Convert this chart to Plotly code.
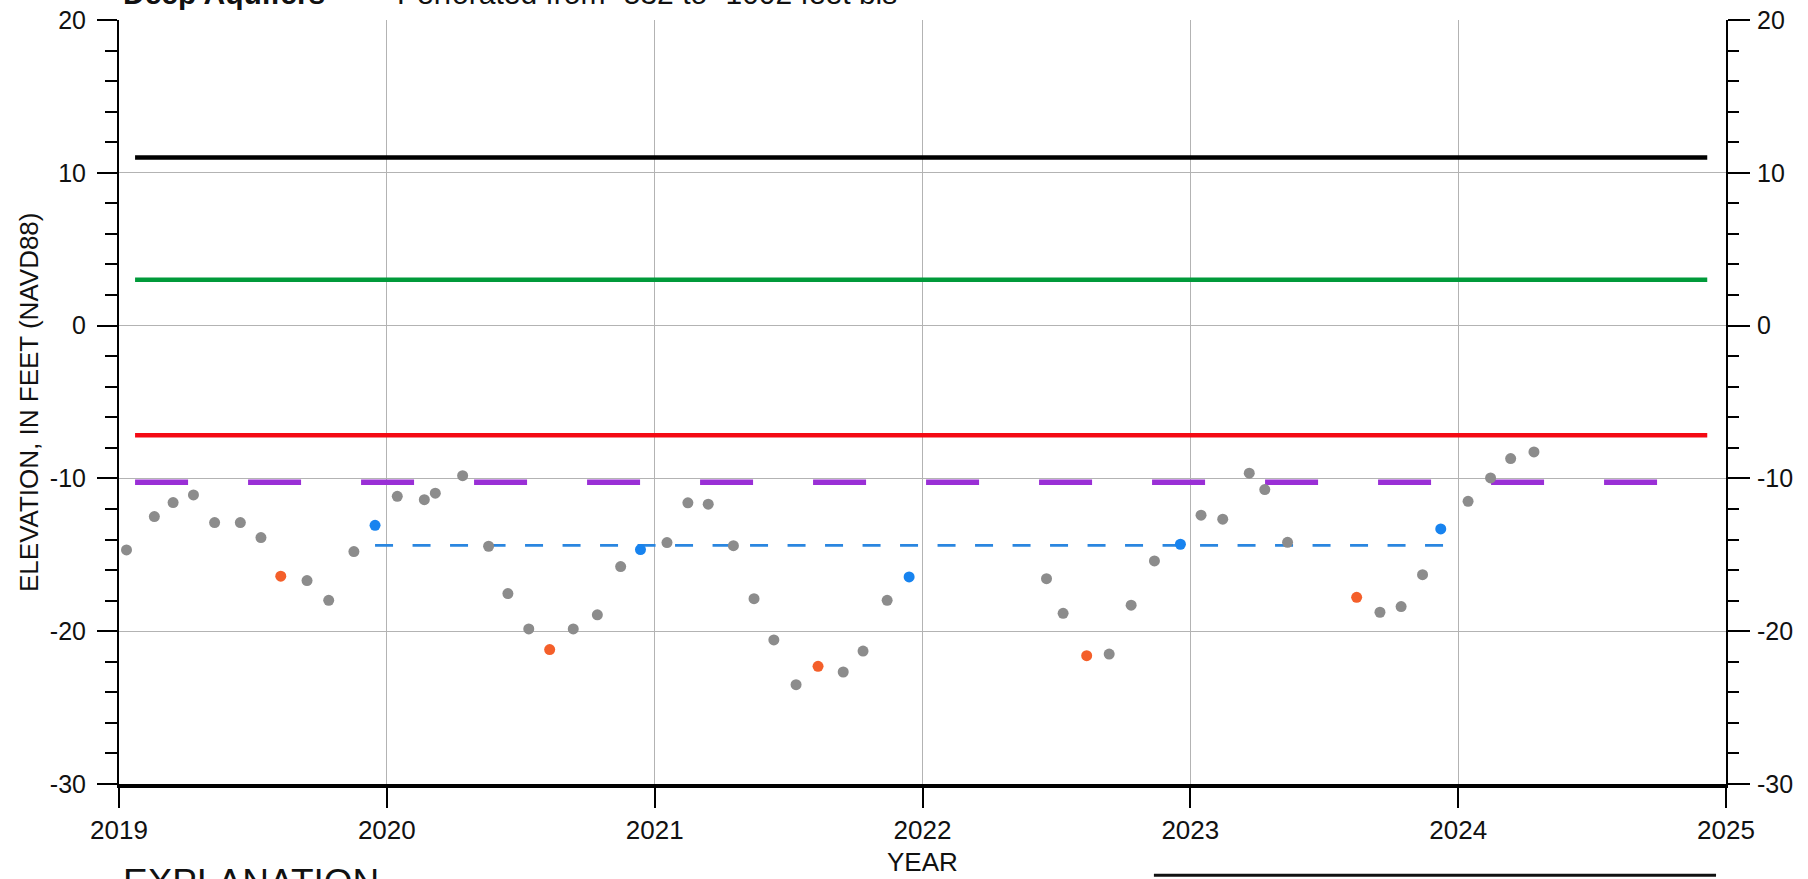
import plotly.graph_objects as go

# ---------------- data ----------------
gray_years = [2019.028, 2019.132, 2019.202, 2019.278, 2019.357, 2019.453, 2019.530, 2019.702,
              2019.783, 2019.877, 2020.039, 2020.140, 2020.181, 2020.283, 2020.380, 2020.452,
              2020.530, 2020.696, 2020.786, 2020.873, 2021.046, 2021.124, 2021.200, 2021.294,
              2021.371, 2021.445, 2021.528, 2021.704, 2021.778, 2021.868, 2022.463, 2022.525,
              2022.697, 2022.779, 2022.866, 2023.040, 2023.121, 2023.220, 2023.278, 2023.363,
              2023.708, 2023.787, 2023.867, 2024.037, 2024.121, 2024.196, 2024.283]
gray_vals = [-14.68, -12.50, -11.58, -11.08, -12.89, -12.89, -13.87, -16.69,
             -17.98, -14.79, -11.17, -11.39, -10.97, -9.82, -14.44, -17.54,
             -19.85, -19.85, -18.93, -15.77, -14.20, -11.60, -11.69, -14.40,
             -17.87, -20.57, -23.50, -22.67, -21.30, -17.98, -16.56, -18.83,
             -21.50, -18.30, -15.40, -12.41, -12.67, -9.66, -10.73, -14.18,
             -18.76, -18.39, -16.30, -11.50, -9.97, -8.70, -8.27]

orange_years = [2019.604, 2020.608, 2021.610, 2022.613, 2023.621]
orange_vals = [-16.40, -21.20, -22.30, -21.60, -17.78]

blue_years = [2019.956, 2020.947, 2021.950, 2022.963, 2023.935]
blue_vals = [-13.07, -14.66, -16.45, -14.31, -13.31]

blue_avg_years = [2019.956, 2023.944]
blue_avg_vals = [-14.38, -14.38]

level_years = [2019.06, 2024.93]
black_level = [11.0, 11.0]
green_level = [3.0, 3.0]
red_level = [-7.18, -7.18]
purple_level = [-10.25, -10.25]

year_ticks = [2019, 2020, 2021, 2022, 2023, 2024, 2025]
year_labels = ["2019", "2020", "2021", "2022", "2023", "2024", "2025"]
elev_ticks = [-30, -20, -10, 0, 10, 20]
elev_labels = ["-30", "-20", "-10", "0", "10", "20"]

FONT = "Liberation Sans, Arial, sans-serif"
TXT = "#111111"

fig = go.Figure()

fig.add_trace(go.Scatter(x=level_years, y=black_level, mode="lines",
                         line=dict(color="#000000", width=4.5), hoverinfo="skip"))
fig.add_trace(go.Scatter(x=level_years, y=green_level, mode="lines",
                         line=dict(color="#009a3a", width=4.5), hoverinfo="skip"))
fig.add_trace(go.Scatter(x=level_years, y=red_level, mode="lines",
                         line=dict(color="#f40a14", width=4.5), hoverinfo="skip"))
fig.add_trace(go.Scatter(x=level_years, y=purple_level, mode="lines",
                         line=dict(color="#9a2fd6", width=5.5, dash="53px,60px"), hoverinfo="skip"))
fig.add_trace(go.Scatter(x=blue_avg_years, y=blue_avg_vals, mode="lines",
                         line=dict(color="#2a86e0", width=2.7, dash="18px,19.5px"), hoverinfo="skip"))

fig.add_trace(go.Scatter(x=gray_years, y=gray_vals, mode="markers",
                         marker=dict(color="#8c8c8c", size=11, line=dict(width=0))))
fig.add_trace(go.Scatter(x=orange_years, y=orange_vals, mode="markers",
                         marker=dict(color="#f45f2a", size=11, line=dict(width=0))))
fig.add_trace(go.Scatter(x=blue_years, y=blue_vals, mode="markers",
                         marker=dict(color="#1783ef", size=11, line=dict(width=0))))

# invisible trace for right axis
fig.add_trace(go.Scatter(x=[2019], y=[0], yaxis="y2", mode="markers",
                         marker=dict(opacity=0), hoverinfo="skip"))

grid = "#b3b3b3"
fig.update_layout(
    width=1808, height=879,
    margin=dict(l=119, r=82, t=20, b=95, autoexpand=False),
    paper_bgcolor="white", plot_bgcolor="white",
    showlegend=False,
    xaxis=dict(range=[2019, 2025], tickmode="array", tickvals=year_ticks, ticktext=year_labels,
               ticks="outside", ticklen=20, tickwidth=1.5, tickcolor="black",
               showline=True, linewidth=4, linecolor="black",
               showgrid=True, gridcolor=grid, gridwidth=1, zeroline=False,
               tickfont=dict(family=FONT, size=26, color=TXT)),
    yaxis=dict(range=[-30, 20], tickmode="array", tickvals=elev_ticks, ticktext=elev_labels,
               ticks="outside", ticklen=20, tickwidth=1.5, tickcolor="black",
               ticklabelstandoff=6,
               minor=dict(ticks="outside", ticklen=12, tickwidth=1.5, tickcolor="black",
                          tickmode="linear", tick0=0, dtick=2, showgrid=False),
               showline=True, linewidth=2, linecolor="black",
               showgrid=True, gridcolor=grid, gridwidth=1, zeroline=False,
               tickfont=dict(family=FONT, size=25, color=TXT)),
    yaxis2=dict(range=[-30, 20], tickmode="array", tickvals=elev_ticks, ticktext=elev_labels,
                overlaying="y", side="right",
                ticks="outside", ticklen=22, tickwidth=1.5, tickcolor="black",
                ticklabelstandoff=2,
                minor=dict(ticks="outside", ticklen=11, tickwidth=1.5, tickcolor="black",
                           tickmode="linear", tick0=0, dtick=2, showgrid=False),
                showline=True, linewidth=2, linecolor="black",
                showgrid=False, zeroline=False,
                tickfont=dict(family=FONT, size=25, color=TXT)),
)

annots = [
    dict(text="ELEVATION, IN FEET (NAVD88)", xref="paper", yref="paper", x=0, y=0.5,
         xshift=-90, textangle=-90, showarrow=False, xanchor="center", yanchor="middle",
         font=dict(family=FONT, size=26, color=TXT)),
    dict(text="YEAR", xref="paper", yref="paper", x=0.5, y=0, yshift=-78,
         showarrow=False, xanchor="center", yanchor="middle",
         font=dict(family=FONT, size=26, color=TXT)),
    dict(text="EXPLANATION", xref="paper", yref="paper", x=0, y=0, xshift=2, yshift=-98,
         showarrow=False, xanchor="left", yanchor="middle",
         font=dict(family=FONT, size=37, color=TXT)),
    dict(text="<b>Deep Aquifers</b>", xref="paper", yref="paper", x=0, y=1, xshift=2, yshift=27,
         showarrow=False, xanchor="left", yanchor="middle",
         font=dict(family=FONT, size=30, color=TXT)),
    dict(text="Perforated from -532 to -1002 feet bls", xref="paper", yref="paper", x=0.1716, y=1,
         yshift=27, showarrow=False, xanchor="left", yanchor="middle",
         font=dict(family=FONT, size=30, color=TXT)),
]
fig.update_layout(annotations=annots)

fig.add_shape(type="line", xref="paper", yref="paper", x0=0.644, x1=0.9938,
              y0=-0.1196, y1=-0.1196, line=dict(color="#111111", width=3))

fig.write_html("out.html", config={"displayModeBar": False},
               post_script="document.body.style.margin='0';document.body.style.overflow='hidden';")
